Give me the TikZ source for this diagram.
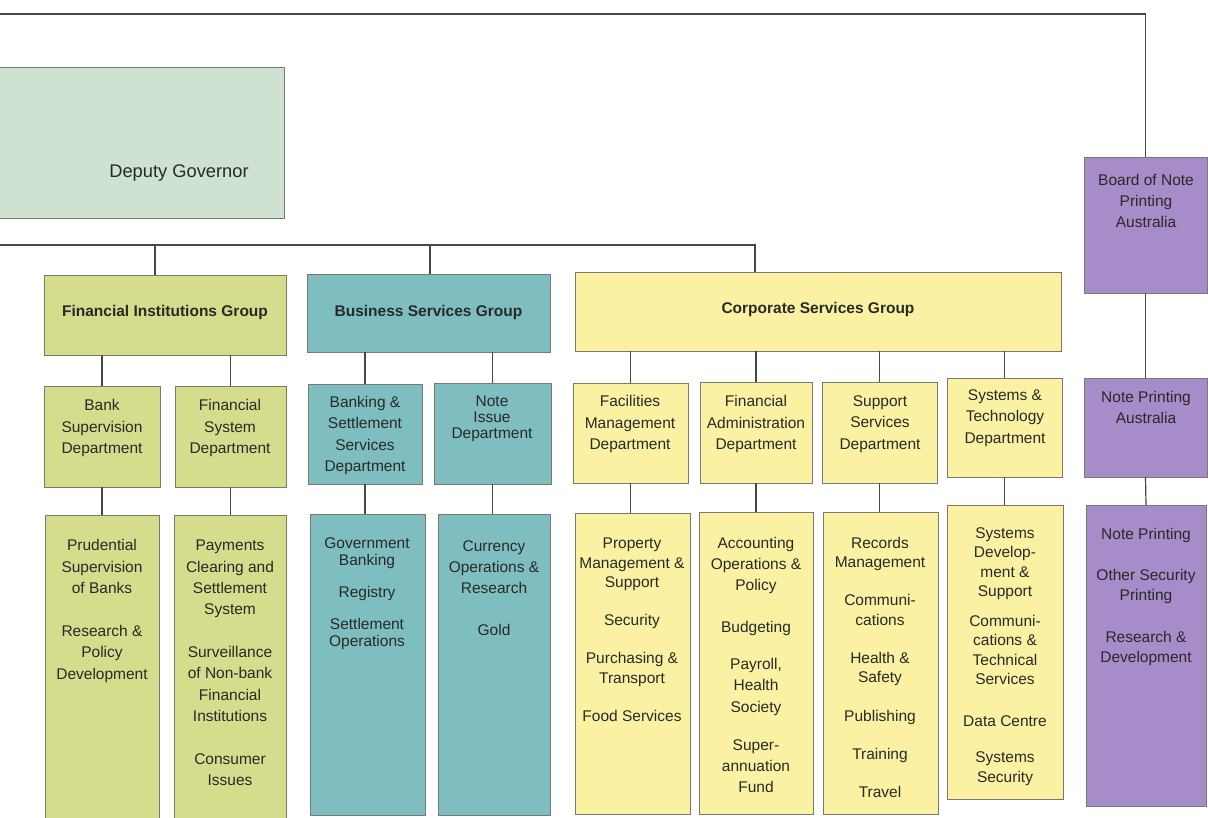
\documentclass[tikz,border=0pt]{standalone}
\usepackage{fontspec}
\setmainfont{Liberation Sans}
\usetikzlibrary{fit}

\definecolor{deputy}{RGB}{207,225,208}
\definecolor{figfill}{RGB}{213,220,140}
\definecolor{bsgfill}{RGB}{126,190,192}
\definecolor{csgfill}{RGB}{250,242,162}
\definecolor{npafill}{RGB}{166,140,200}
\definecolor{edge}{RGB}{120,122,110}
\definecolor{wirecol}{RGB}{70,72,70}
\definecolor{ink}{RGB}{40,42,40}

\tikzset{
  orgbox/.style={draw=edge, line width=0.9pt, inner sep=0pt, outer sep=0pt},
  lbl/.style={font=\fontsize{15.5}{21.3}\selectfont, align=center, inner sep=0pt, text=ink},
  title/.style={lbl, font=\fontsize{15.5}{19}\selectfont\bfseries},
  wire/.style={draw=wirecol, line width=1.2pt},
}

\begin{document}
\begin{tikzpicture}[x=1pt,y=-1pt]
\useasboundingbox (0,0) rectangle (1208,817);
\clip (0,0) rectangle (1208,817);
\fill[white] (0,0) rectangle (1208,817);

% ---------- boxes ----------
\node[orgbox, fill=deputy, fit={(-10,67) (284,218)}] (dg) {};
\node[orgbox, fill=npafill, fit={(1084,157) (1207,293)}] (bnpa) {};
\node[orgbox, fill=npafill, fit={(1084,378) (1207,477)}] (npa) {};
\node[orgbox, fill=npafill, fit={(1086,505) (1206,806)}] (npab) {};

% Financial Institutions Group
\node[orgbox, fill=figfill, fit={(44,275) (286,355)}] (fig) {};
\node[orgbox, fill=figfill, fit={(44,386) (160,487)}] (bsd) {};
\node[orgbox, fill=figfill, fit={(175,386) (286,487)}] (fsd) {};
\node[orgbox, fill=figfill, fit={(45,515) (159,830)}] (bsdb) {};
\node[orgbox, fill=figfill, fit={(174,515) (286,830)}] (fsdb) {};

% Business Services Group
\node[orgbox, fill=bsgfill, fit={(307,274) (550,352)}] (bsg) {};
\node[orgbox, fill=bsgfill, fit={(308,384) (422,484)}] (bss) {};
\node[orgbox, fill=bsgfill, fit={(434,383) (551,484)}] (nid) {};
\node[orgbox, fill=bsgfill, fit={(310,514) (425,815)}] (bssb) {};
\node[orgbox, fill=bsgfill, fit={(438,514) (550,815)}] (nidb) {};

% Corporate Services Group
\node[orgbox, fill=csgfill, fit={(575,272) (1061,351)}] (csg) {};
\node[orgbox, fill=csgfill, fit={(573,383) (688,483)}] (fmd) {};
\node[orgbox, fill=csgfill, fit={(700,382) (812,483)}] (fad) {};
\node[orgbox, fill=csgfill, fit={(822,382) (937,483)}] (ssd) {};
\node[orgbox, fill=csgfill, fit={(947,378) (1062,477)}] (std) {};
\node[orgbox, fill=csgfill, fit={(575,513) (690,814)}] (fmdb) {};
\node[orgbox, fill=csgfill, fit={(699,512) (813,814)}] (fadb) {};
\node[orgbox, fill=csgfill, fit={(823,512) (938,814)}] (ssdb) {};
\node[orgbox, fill=csgfill, fit={(947,505) (1063,799)}] (stdb) {};

% ---------- connectors ----------
\coordinate (topleft) at (-10,14);
\draw[wire] (topleft) -| (bnpa.north);
\draw[wire] (bnpa.south) -- (npa.north);
\draw[wire] (npa.south) -- (npab.north);

\coordinate (busleft) at (-10,245);
\coordinate (jfig) at (155,245);
\coordinate (jbsg) at (430,245);
\coordinate (jcsg) at (755,245);
\draw[wire] (busleft) -- (jcsg) -- (jcsg |- csg.north);
\draw[wire] (jfig) -- (jfig |- fig.north);
\draw[wire] (jbsg) -- (jbsg |- bsg.north);

\foreach \d/\g in {bsd/fig, fsd/fig, bss/bsg, nid/bsg, fmd/csg, fad/csg, ssd/csg, std/csg}{
  \draw[wire] (\d.north) -- (\d.north |- \g.south);
  \draw[wire] (\d.south) -- (\d.south |- \d b.north);
}

% ---------- texts ----------
\node[lbl, font=\fontsize{18.3}{22}\selectfont] (dg-t) at (179,173) {Deputy Governor};
\node[lbl] (bnpa-t) at (1146,201) {Board of Note\\Printing\\Australia};
\node[lbl] (npa-t) at (1146,407.5) {Note Printing\\Australia};
\node[lbl, font=\fontsize{15.5}{20.5}\selectfont] (npab-t) at (1146,597)
  {Note Printing\\[20.5pt]Other Security\\Printing\\[21pt]Research \&\\Development};

\node[title] (fig-t) at (165,312) {Financial Institutions Group};
\node[title] (bsg-t) at (428.5,312) {Business Services Group};
\node[title] (csg-t) at (818,309) {Corporate Services Group};

\node[lbl] (bsd-t) at (102,428) {Bank\\Supervision\\Department};
\node[lbl] (fsd-t) at (230,428) {Financial\\System\\Department};
\node[lbl] (bss-t) at (365,435.5) {Banking \&\\Settlement\\Services\\Department};
\node[lbl, font=\fontsize{15.5}{16}\selectfont] (nid-t) at (492,419) {Note\\Issue\\Department};
\node[lbl] (fmd-t) at (630,424) {Facilities\\Management\\Department};
\node[lbl] (fad-t) at (756,424) {Financial\\Administration\\Department};
\node[lbl] (ssd-t) at (880,424) {Support\\Services\\Department};
\node[lbl] (std-t) at (1005,418) {Systems \&\\Technology\\Department};

\node[lbl, font=\fontsize{15.5}{21.4}\selectfont] (bsdb-t) at (102,611)
  {Prudential\\Supervision\\of Banks\\[21.6pt]Research \&\\Policy\\Development};
\node[lbl, font=\fontsize{15.5}{21.3}\selectfont] (fsdb-t) at (230,663)
  {Payments\\Clearing and\\Settlement\\System\\[21.5pt]Surveillance\\of Non-bank\\Financial\\Institutions\\[21.5pt]Consumer\\Issues};
\node[lbl, font=\fontsize{15.5}{17}\selectfont] (bssb-t) at (367,594)
  {Government\\Banking\\[15pt]Registry\\[15pt]Settlement\\Operations};
\node[lbl, font=\fontsize{15.5}{21}\selectfont] (nidb-t) at (494,588)
  {Currency\\Operations \&\\Research\\[21pt]Gold};
\node[lbl, font=\fontsize{15.5}{19.5}\selectfont] (fmdb-t) at (632,629.5)
  {Property\\Management \&\\Support\\[18.5pt]Security\\[18.5pt]Purchasing \&\\Transport\\[18.5pt]Food Services};
\node[lbl, font=\fontsize{15.5}{21.3}\selectfont] (fadb-t) at (756,665)
  {Accounting\\Operations \&\\Policy\\[20pt]Budgeting\\[16pt]Payroll,\\Health\\Society\\[17pt]Super-\\annuation\\Fund};
\node[lbl, font=\fontsize{15.5}{19.3}\selectfont] (ssdb-t) at (880,667.5)
  {Records\\Management\\[19pt]Communi-\\cations\\[19pt]Health \&\\Safety\\[19pt]Publishing\\[19pt]Training\\[19pt]Travel};
\node[lbl, font=\fontsize{15.5}{19.5}\selectfont] (stdb-t) at (1005,656.5)
  {Systems\\Develop-\\ment \&\\Support\\[10pt]Communi-\\cations \&\\Technical\\Services\\[22pt]Data Centre\\[17pt]Systems\\Security};

\end{tikzpicture}
\end{document}
